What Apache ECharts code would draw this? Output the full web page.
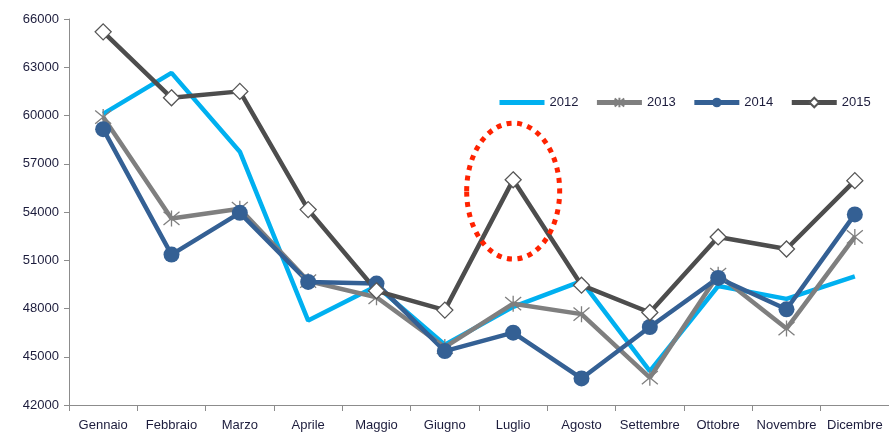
<!DOCTYPE html>
<html>
<head>
<meta charset="utf-8">
<script src="https://cdn.jsdelivr.net/npm/echarts@6/dist/echarts.min.js"></script>
<style>html,body{margin:0;padding:0;background:#fff}#c{width:889px;height:436px}</style>
</head>
<body>
<div id="c"></div>
<script>
var months = ['Gennaio','Febbraio','Marzo','Aprile','Maggio','Giugno','Luglio','Agosto','Settembre','Ottobre','Novembre','Dicembre'];
var s2012 = [60100, 62650, 57750, 47250, 49400, 45750, 48100, 49700, 44100, 49400, 48600, 50000];
var s2013 = [59900, 53600, 54200, 49700, 48700, 45600, 48300, 47650, 43700, 50100, 46750, 52450];
var s2014 = [59150, 51350, 53950, 49650, 49550, 45350, 46500, 43650, 46850, 49900, 47950, 53850];
var s2015 = [65200, 61100, 61500, 54150, 49100, 47900, 56000, 49450, 47750, 52450, 51700, 55950];
var highlight = {category: 'Luglio', value: 55300};

var chart = echarts.init(document.getElementById('c'));
var txt = '#1c1c3c';
var star = 'path://M0,0L10,10M10,0L0,10M5,-1L5,11';
chart.setOption({
  animation: false,
  textStyle: {fontFamily: 'Liberation Sans'},
  grid: {left: 69, right: 0, top: 19, bottom: 31},
  legend: {
    left: 497, top: 96, padding: 0, itemWidth: 45, itemHeight: 12, itemGap: 16,
    lineStyle: {width: 5},
    textStyle: {fontSize: 13, color: txt, fontFamily: 'Liberation Sans'},
    data: [{name: '2012', itemStyle: {opacity: 0}}, '2013', '2014', {name: '2015'}]
  },
  xAxis: {
    type: 'category', data: months, boundaryGap: true,
    axisLine: {lineStyle: {color: '#8c8c8c', width: 1}},
    axisTick: {show: true, length: 6, lineStyle: {color: '#8c8c8c'}},
    axisLabel: {fontSize: 13, color: txt, margin: 14, interval: 0}
  },
  yAxis: {
    type: 'value', min: 42000, max: 66000, interval: 3000,
    axisLine: {show: true, lineStyle: {color: '#8c8c8c', width: 1}},
    axisTick: {show: true, length: 5, lineStyle: {color: '#8c8c8c'}},
    splitLine: {show: false},
    axisLabel: {fontSize: 13, color: txt, margin: 10, formatter: function (v) { return String(v); }}
  },
  series: [
    {name: '2012', type: 'line', data: s2012, symbol: 'none', color: '#00b0f0',
     lineStyle: {width: 4.5, color: '#00b0f0'}},
    {name: '2013', type: 'line', data: s2013, symbol: star, symbolSize: 16, color: '#7f7f7f',
     lineStyle: {width: 4.5, color: '#7f7f7f'},
     itemStyle: {color: 'rgba(0,0,0,0)', borderColor: '#7f7f7f', borderWidth: 1.3}},
    {name: '2014', type: 'line', data: s2014, symbol: 'circle', symbolSize: 16, color: '#346094',
     lineStyle: {width: 4.5, color: '#346094'},
     itemStyle: {color: '#346094'}},
    {name: '2015', type: 'line', data: s2015, symbol: 'diamond', symbolSize: 16, color: '#4d4d4d',
     lineStyle: {width: 4.5, color: '#4d4d4d'},
     itemStyle: {color: '#ffffff', borderColor: '#555555', borderWidth: 1.3}}
  ]
});
var p = chart.convertToPixel({xAxisIndex: 0, yAxisIndex: 0}, [highlight.category, highlight.value]);
chart.setOption({
  graphic: [{
    type: 'ellipse', z: 100,
    shape: {cx: p[0], cy: p[1], rx: 46.5, ry: 68},
    style: {fill: 'none', stroke: '#ff2200', lineWidth: 5, lineDash: [5, 5.5]}
  }]
});
</script>
</body>
</html>
